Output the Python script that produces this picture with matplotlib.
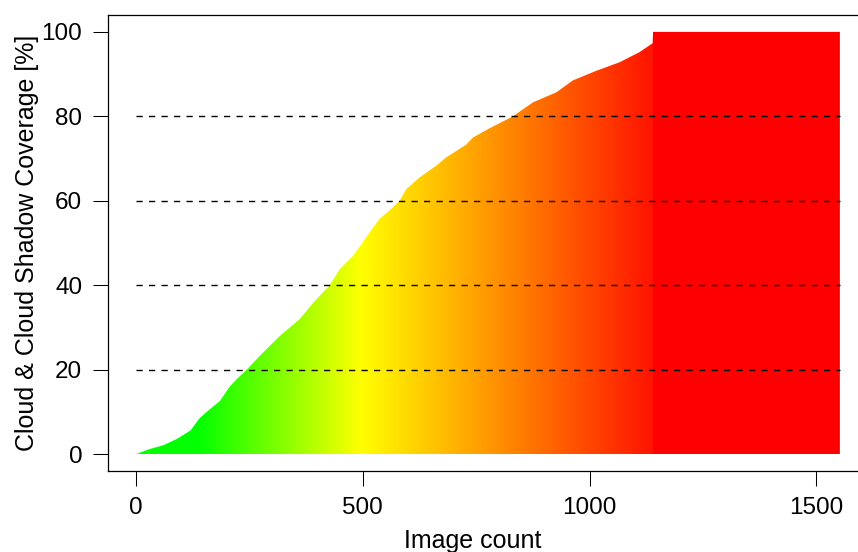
import matplotlib
matplotlib.use("Agg")
import matplotlib.pyplot as plt
import numpy as np
from matplotlib.patches import Polygon

plt.rcParams['font.family'] = ['Liberation Sans', 'DejaVu Sans']

# sorted cloud & cloud shadow coverage [%], sampled along the image count
image_idx = [0, 30, 60, 90, 120, 140, 160, 185, 205, 222, 244, 273, 317, 361,
             391, 427, 449, 479, 515, 537, 567, 581, 596, 626, 662, 684, 728,
             743, 780, 831, 875, 927, 963, 1015, 1066, 1088, 1110, 1139, 1140,
             1552]
coverage = [0, 1.2, 2.1, 3.6, 5.6, 8.5, 10.4, 12.6, 15.8, 17.8, 20.0, 23.3,
            28.0, 32.0, 35.9, 40.0, 43.8, 47.0, 52.5, 55.7, 58.5, 60.0, 62.8,
            65.6, 68.3, 70.3, 73.3, 75.0, 77.2, 80.0, 83.3, 85.7, 88.5, 90.8,
            92.8, 94.0, 95.2, 97.3, 100, 100]
n_images = 1552
thresholds = [20, 40, 60, 80]
x_ticks = [0, 500, 1000, 1500]
y_ticks = [0, 20, 40, 60, 80, 100]

fig = plt.figure(figsize=(8.58, 5.52), dpi=100)
ax = fig.add_axes([108 / 858, 81 / 552, 760 / 858, 456 / 552])

# green -> yellow -> red ramp over the image count, fully covered images in pure red
cols = np.arange(n_images)
ramp_at = [0, 134, 495, 1190]
red = np.interp(cols, ramp_at, [0, 0, 1, 1])
green = np.interp(cols, ramp_at, [1, 1, 1, 0])
first_full = image_idx[coverage.index(100)]
red[cols >= first_full] = 1
green[cols >= first_full] = 0
rgb = np.stack([red, green, np.zeros(n_images)], axis=1)[np.newaxis]

im = ax.imshow(rgb, extent=(0, n_images, 0, 100), aspect='auto',
               interpolation='nearest', zorder=1)
verts = [(0, 0)] + list(zip(image_idx, coverage)) + [(n_images, 0)]
area = Polygon(verts, closed=True, facecolor='none', edgecolor='none',
               transform=ax.transData)
ax.add_patch(area)
im.set_clip_path(area)

for t in thresholds:
    ax.plot([0, n_images], [t, t], color='black', lw=1.0, ls=(0, (4.5, 4.5)), zorder=3)

ax.set_xlim(-62, 1614)
ax.set_ylim(-4, 104)
ax.set_xticks(x_ticks)
ax.set_yticks(y_ticks)
ax.tick_params(direction='out', length=10.5, width=0.75, labelsize=17.5,
               pad=8, colors='black')
for s in ax.spines.values():
    s.set_linewidth(0.9)
    s.set_color('black')
ax.spines['right'].set_visible(False)

ax.set_xlabel("Image count", fontsize=18)
ax.xaxis.set_label_coords((473 - 108) / 760, -(541 - 471) / 456)
ax.xaxis.label.set_va('center')
ax.set_ylabel("Cloud & Cloud Shadow Coverage [%]", fontsize=18)
ax.yaxis.set_label_coords((27 - 108) / 760, 0.5)
ax.yaxis.label.set_va('center')

fig.savefig("out.png", dpi=100)
